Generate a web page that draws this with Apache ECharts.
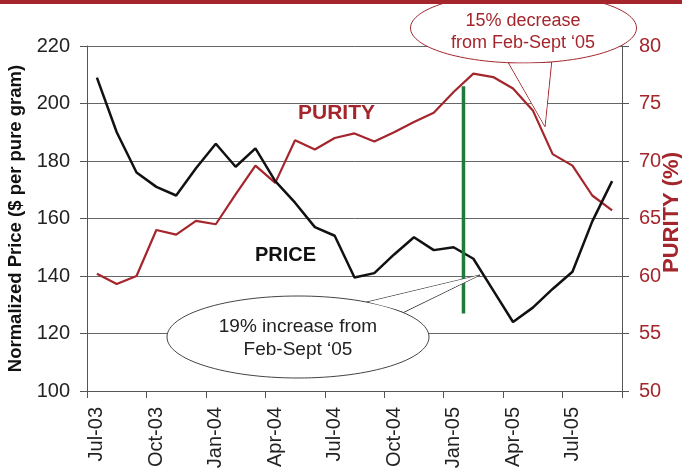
<!DOCTYPE html>
<html>
<head>
<meta charset="utf-8">
<script src="https://cdn.jsdelivr.net/npm/echarts@6/dist/echarts.min.js"></script>
<style>
html,body{margin:0;padding:0;background:#fff;}
#chart{width:682px;height:470px;}
</style>
</head>
<body>
<div id="chart"></div>
<script>
var months = ['Jul-03','Aug-03','Sep-03','Oct-03','Nov-03','Dec-03','Jan-04','Feb-04','Mar-04','Apr-04','May-04','Jun-04','Jul-04','Aug-04','Sep-04','Oct-04','Nov-04','Dec-04','Jan-05','Feb-05','Mar-05','Apr-05','May-05','Jun-05','Jul-05','Aug-05','Sep-05'];
var price = [209, 190, 176, 171, 168, 177.5, 186, 178, 184.4, 173, 165.5, 157, 154, 139.5, 141, 147.5, 153.5, 149, 150, 146, 135, 124, 129, 135.5, 141.5, 159, 173];
var purity = [60.2, 59.3, 60.0, 64.0, 63.6, 64.8, 64.5, 67.1, 69.6, 68.1, 71.8, 71.0, 72.0, 72.4, 71.7, 72.5, 73.4, 74.2, 76.0, 77.6, 77.3, 76.3, 74.4, 70.6, 69.6, 67.0, 65.7];
var priceTicks = [100, 120, 140, 160, 180, 200, 220];
var purityTicks = [50, 55, 60, 65, 70, 75, 80];
var markerBoundary = 19;          // boundary between Jan-05 and Feb-05
var markerPriceRange = [127, 206];
var purityCallout = '15% decrease\nfrom Feb-Sept \u201805';
var priceCallout = '19% increase from\nFeb-Sept \u201805';

var FONT = '"Liberation Sans", Arial, sans-serif';
var RED = '#a4262c';
var chart = echarts.init(document.getElementById('chart'));

// speech-bubble: pointer outline, ellipse, then a slightly shrunken white pointer fill hiding the ellipse border at the joint
function bubble(cx, cy, rx, ry, p1, p2, tip, stroke) {
  function shrink(pts, d) {
    var gx = (pts[0][0] + pts[1][0] + pts[2][0]) / 3, gy = (pts[0][1] + pts[1][1] + pts[2][1]) / 3;
    return pts.map(function (p) {
      var dx = gx - p[0], dy = gy - p[1], L = Math.sqrt(dx * dx + dy * dy);
      return [p[0] + dx / L * d, p[1] + dy / L * d];
    });
  }
  var tri = [p1, p2, tip];
  return [
    { type: 'polygon', z: 20, shape: { points: tri }, style: { fill: '#fff', stroke: stroke, lineWidth: 1 } },
    { type: 'ellipse', z: 21, shape: { cx: cx, cy: cy, rx: rx, ry: ry }, style: { fill: '#fff', stroke: stroke, lineWidth: 1 } },
    { type: 'polygon', z: 22, shape: { points: shrink(tri, 1.6) }, style: { fill: '#fff' } }
  ];
}

var graphics = [
  { type: 'text', left: 298, top: 103, z: 10,
    style: { text: 'PURITY', font: 'bold 21px ' + FONT, fill: RED } },
  { type: 'text', left: 255, top: 245, z: 10,
    style: { text: 'PRICE', font: 'bold 20px ' + FONT, fill: '#111' } }
].concat(
  bubble(298, 337, 131, 41, [366.7, 302.1], [403.3, 312.6], [480, 275], '#444'),
  [{ type: 'text', z: 25, x: 298, y: 338,
     style: { text: priceCallout, font: '19px ' + FONT, fill: '#222', align: 'center', verticalAlign: 'middle', lineHeight: 23 } }],
  bubble(523.5, 28, 113, 35, [508.3, 62.7], [551.7, 61.9], [545, 126.7], RED),
  [{ type: 'text', z: 25, x: 523, y: 32,
     style: { text: purityCallout, font: '18px ' + FONT, fill: RED, align: 'center', verticalAlign: 'middle', lineHeight: 22 } },
   { type: 'rect', z: 26, shape: { x: 0, y: 0, width: 682, height: 4 }, style: { fill: RED } }]
);

var option = {
  backgroundColor: '#ffffff',
  animation: false,
  grid: { left: 87, right: 60, top: 46, bottom: 79, containLabel: false, outerBoundsMode: 'none' },
  xAxis: [{
    type: 'category',
    data: months,
    boundaryGap: true,
    axisLine: { lineStyle: { color: '#555', width: 1 } },
    axisTick: { show: true, interval: 2, length: 7, inside: false, lineStyle: { color: '#555' } },
    axisLabel: { interval: 2, rotate: 90, fontSize: 20, fontFamily: FONT, color: '#222', margin: 16 },
    splitLine: { show: false }
  }, {
    type: 'value', min: 0, max: months.length, interval: 1, show: false
  }],
  yAxis: [{
    type: 'value',
    min: priceTicks[0], max: priceTicks[priceTicks.length - 1], interval: 20,
    position: 'left',
    name: 'Normalized Price ($ per pure gram)',
    nameLocation: 'middle', nameRotate: 90, nameGap: 59,
    nameTextStyle: { fontSize: 18.5, fontWeight: 'bold', fontFamily: FONT, color: '#111' },
    axisLine: { show: true, lineStyle: { color: '#555', width: 1 } },
    axisTick: { show: true, length: 7, lineStyle: { color: '#555' } },
    axisLabel: { fontSize: 20, fontFamily: FONT, color: '#222', margin: 17 },
    splitLine: { show: true, lineStyle: { color: '#666', width: 1 } }
  }, {
    type: 'value',
    min: purityTicks[0], max: purityTicks[purityTicks.length - 1], interval: 5,
    position: 'right',
    name: 'PURITY (%)',
    nameLocation: 'middle', nameRotate: 90, nameGap: 39, nameMoveOverlap: false,
    nameTextStyle: { fontSize: 22, fontWeight: 'bold', fontFamily: FONT, color: RED, padding: [0, 0, 0, 12] },
    axisLine: { show: true, lineStyle: { color: '#555', width: 1 } },
    axisTick: { show: true, length: 7, lineStyle: { color: '#555' } },
    axisLabel: { fontSize: 20, fontFamily: FONT, color: RED, margin: 17 },
    splitLine: { show: false }
  }],
  series: [{
    name: 'Purity', type: 'line', yAxisIndex: 1, data: purity,
    symbol: 'none', lineStyle: { color: RED, width: 2.2 }, z: 3
  }, {
    name: 'Price', type: 'line', yAxisIndex: 0, data: price,
    symbol: 'none', lineStyle: { color: '#111', width: 2.5 }, z: 4
  }, {
    name: 'Marker', type: 'line', xAxisIndex: 1, yAxisIndex: 0,
    data: [[markerBoundary, markerPriceRange[0]], [markerBoundary, markerPriceRange[1]]],
    symbol: 'none', lineStyle: { color: '#1f7a3c', width: 3.5 }, z: 5
  }],
  graphic: graphics
};
chart.setOption(option);
</script>
</body>
</html>
